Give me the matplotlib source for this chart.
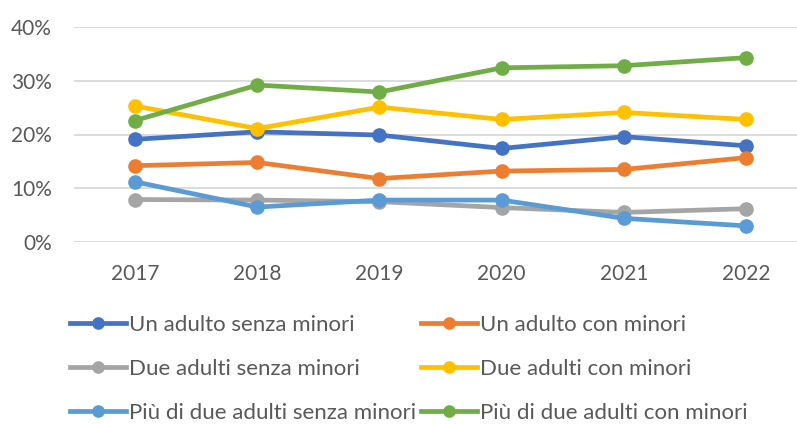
import matplotlib.pyplot as plt
from matplotlib.ticker import PercentFormatter

plt.switch_backend('Agg')
plt.rcParams['font.family'] = ['Lato', 'DejaVu Sans']

# --- dati ---
years = ["2017", "2018", "2019", "2020", "2021", "2022"]

un_adulto_senza = [0.191, 0.205, 0.199, 0.174, 0.196, 0.179]
un_adulto_con = [0.142, 0.148, 0.118, 0.132, 0.135, 0.157]
due_adulti_senza = [0.079, 0.078, 0.075, 0.064, 0.055, 0.062]
due_adulti_con = [0.253, 0.211, 0.251, 0.228, 0.241, 0.228]
piu_due_senza = [0.112, 0.065, 0.078, 0.078, 0.044, 0.030]
piu_due_con = [0.226, 0.292, 0.279, 0.324, 0.328, 0.343]

series = [
    ("Un adulto senza minori", un_adulto_senza, "#4472C4"),
    ("Un adulto con minori", un_adulto_con, "#ED7D31"),
    ("Due adulti senza minori", due_adulti_senza, "#A5A5A5"),
    ("Due adulti con minori", due_adulti_con, "#FFC000"),
    ("Più di due adulti senza minori", piu_due_senza, "#5B9BD5"),
    ("Più di due adulti con minori", piu_due_con, "#70AD47"),
]

TEXT = "#595959"
W, H = 797, 425

fig = plt.figure(figsize=(W / 100, H / 100), dpi=100, facecolor='white')
ax = fig.add_axes([74 / W, 1 - 242 / H, (W - 74) / W, (242 - 27) / H])

x = list(range(len(years)))
handles = []
for name, vals, col in series:
    h, = ax.plot(x, vals, color=col, linewidth=3.4, marker='o', markersize=9.5,
                 label=name, clip_on=False, zorder=3)
    handles.append(h)

ax.set_ylim(0, 0.40)
ax.set_yticks([0, 0.1, 0.2, 0.3, 0.4])
ax.yaxis.set_major_formatter(PercentFormatter(1.0, decimals=0))
ax.set_xlim(-0.5, (W - 135) / 122.2)
ax.set_xticks(x)
ax.set_xticklabels(years)

ax.grid(True, axis='y', color='#D9D9D9', linewidth=1.3, zorder=0)
for s in ax.spines.values():
    s.set_visible(False)
ax.tick_params(axis='both', length=0, labelsize=15, labelcolor=TEXT)
ax.tick_params(axis='y', pad=16)
ax.tick_params(axis='x', pad=15.5)

# legenda su due colonne, riempita per righe come in Excel
leg_kw = dict(loc='upper left', ncol=1, frameon=False, fontsize=16, labelcolor=TEXT,
              handlelength=2.5, handletextpad=0.15, labelspacing=1.08,
              borderpad=0, borderaxespad=0, markerscale=0.85)
fig.legend(handles=handles[0::2], bbox_to_anchor=(70 / W, 1 - 315 / H), **leg_kw)
fig.legend(handles=handles[1::2], bbox_to_anchor=(421 / W, 1 - 315 / H), **leg_kw)

fig.savefig("out.png", dpi=100, facecolor='white')
